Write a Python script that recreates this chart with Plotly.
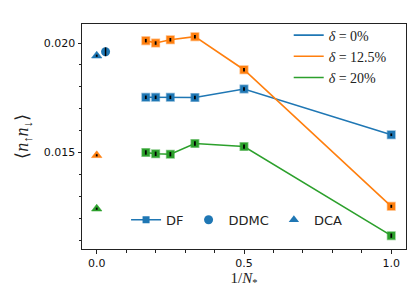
import plotly.graph_objects as go

# ---- data ----
x_df = [1/6, 1/5, 1/4, 1/3, 1/2, 1.0]
y_d0 = [0.01752, 0.01752, 0.01752, 0.01751, 0.01790, 0.01581]
y_d125 = [0.02011, 0.02000, 0.02015, 0.02029, 0.01878, 0.01254]
y_d20 = [0.01500, 0.01494, 0.01492, 0.01541, 0.01527, 0.01120]
e_d0 = [0.00008, 0.00008, 0.00008, 0.00008, 0.00008, 0.00006]
e_d125 = [0.00008, 0.00008, 0.00008, 0.00008, 0.00008, 0.00007]
e_d20 = [0.00010, 0.00010, 0.00010, 0.00010, 0.00010, 0.00010]

x_ddmc = [0.03]
y_ddmc = [0.01960]
e_ddmc = [0.00020]

x_dca = [0.0]
y_dca_d0 = [0.01942]
y_dca_d125 = [0.01487]
y_dca_d20 = [0.01243]
e_dca = [0.00005]

labels = ["<i>δ</i> = 0%", "<i>δ</i> = 12.5%", "<i>δ</i> = 20%"]
colors = ["#1f77b4", "#ff7f0e", "#2ca02c"]
edge = ["rgba(31,119,180,0.55)", "rgba(255,127,14,0.55)", "rgba(44,160,44,0.55)"]

series = [(y_d0, e_d0, y_dca_d0), (y_d125, e_d125, y_dca_d125), (y_d20, e_d20, y_dca_d20)]

fig = go.Figure()

for i, (ys, es, ydca) in enumerate(series):
    fig.add_trace(go.Scatter(x=x_df, y=ys, mode="lines+markers",
                             line=dict(color=colors[i], width=1.6),
                             marker=dict(symbol="square", size=7.5, color=colors[i],
                                         line=dict(color=edge[i], width=1.5)),
                             showlegend=False))
    fig.add_trace(go.Scatter(x=x_dca, y=ydca, mode="markers",
                             marker=dict(symbol="triangle-up", size=9, color=colors[i],
                                         line=dict(color=edge[i], width=1)),
                             showlegend=False))

fig.add_trace(go.Scatter(x=x_ddmc, y=y_ddmc, mode="markers",
                         marker=dict(symbol="circle", size=9, color=colors[0]),
                         showlegend=False))

# error bars on top
def errs(x, y, e, w):
    fig.add_trace(go.Scatter(x=x, y=y, mode="markers",
                             marker=dict(size=1, opacity=0),
                             error_y=dict(type="data", array=e, visible=True,
                                          color="black", thickness=w, width=0),
                             showlegend=False, hoverinfo="skip"))

for i, (ys, es, ydca) in enumerate(series):
    errs(x_df, ys, es, 1.8)
    errs(x_dca, ydca, e_dca, 1.8)
errs(x_ddmc, y_ddmc, e_ddmc, 1.5)

# legend 1 (lines)
for i in range(3):
    fig.add_trace(go.Scatter(x=[None], y=[None], mode="lines",
                             line=dict(color=colors[i], width=1.6),
                             name=labels[i], legend="legend"))

# legend 2 (methods)
fig.add_trace(go.Scatter(x=[None], y=[None], mode="lines+markers", name="DF",
                         line=dict(color=colors[0], width=1.6),
                         marker=dict(symbol="square", size=7, color=colors[0]),
                         legend="legend2"))
fig.add_trace(go.Scatter(x=[None], y=[None], mode="markers", name="DDMC",
                         marker=dict(symbol="circle", size=9, color=colors[0]),
                         legend="legend2"))
fig.add_trace(go.Scatter(x=[None], y=[None], mode="markers", name="DCA",
                         marker=dict(symbol="triangle-up", size=9, color=colors[0]),
                         legend="legend2"))

axis_common = dict(showline=True, linecolor="#222", linewidth=1, mirror=True,
                   ticks="outside", tickcolor="#222", ticklen=3.5, showgrid=False,
                   zeroline=False, tickfont=dict(family="DejaVu Sans", size=11, color="#111"))

fig.update_layout(
    width=415, height=291,
    margin=dict(l=74, r=17, t=16, b=50),
    paper_bgcolor="white", plot_bgcolor="white",
    xaxis=dict(range=[-0.05, 1.05], tickvals=[0.0, 0.5, 1.0], ticktext=["0.0", "0.5", "1.0"],
               minor=dict(ticks="outside", dtick=0.1, tick0=0, ticklen=2.5, tickcolor="#222", showgrid=False),
               title=dict(text="1/<i>N</i><sub>*</sub>", font=dict(family="Liberation Serif", size=15, color="#222"),
                          standoff=2),
               **axis_common),
    yaxis=dict(range=[0.01059, 0.02087], tickvals=[0.015, 0.020], ticktext=["0.015", "0.020"],
               minor=dict(ticks="outside", dtick=0.001, tick0=0.011, ticklen=2.5, tickcolor="#222", showgrid=False),
               title=dict(text="⟨<i>n</i><sub>↑</sub><i>n</i><sub>↓</sub>⟩", font=dict(family="Liberation Serif", size=18, color="#222"),
                          standoff=10),
               **axis_common),
    legend=dict(x=0.638, y=1.02, xanchor="left", yanchor="top", bgcolor="rgba(0,0,0,0)",
                font=dict(family="Liberation Serif", size=14, color="#222"), tracegroupgap=0),
    legend2=dict(x=0.136, y=0.13, xanchor="left", yanchor="middle", orientation="h",
                 bgcolor="rgba(0,0,0,0)", font=dict(family="DejaVu Sans", size=13, color="#222")),
)

fig.write_html("out.html")
